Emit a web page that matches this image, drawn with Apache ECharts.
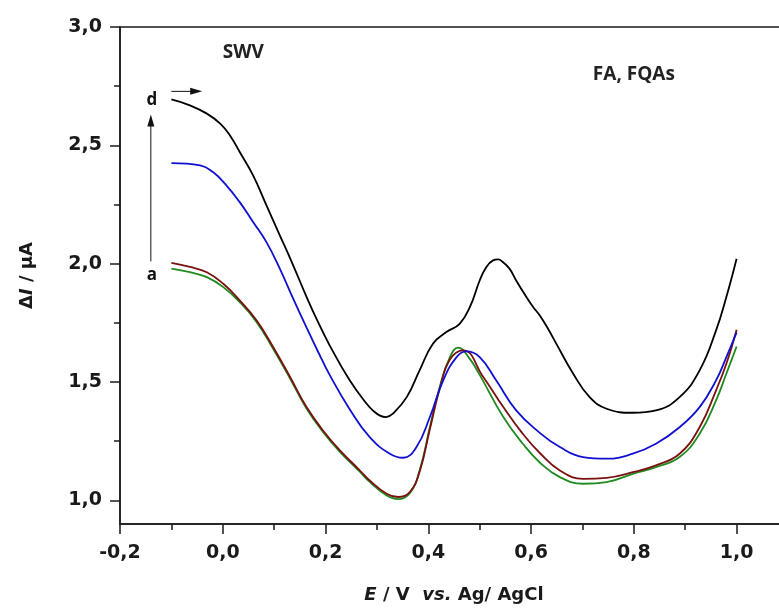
<!DOCTYPE html>
<html><head><meta charset="utf-8">
<script src="https://cdn.jsdelivr.net/npm/echarts@6/dist/echarts.min.js"></script>
<style>html,body{margin:0;padding:0;background:#fff}#c{width:779px;height:609px}</style>
</head><body><div id="c"></div>
<script>
// ---- data ----
const yLabelValues = [1.0, 1.5, 2.0, 2.5, 3.0];
const yMinorValues = [1.25, 1.75, 2.25, 2.75];

const curveD_E = [-0.1, -0.064, -0.031, -0.005, 0.014, 0.033, 0.059, 0.085, 0.111, 0.137, 0.163, 0.185, 0.208, 0.247, 0.280, 0.293, 0.306, 0.318, 0.331, 0.358, 0.383, 0.409, 0.435, 0.461, 0.481, 0.500, 0.513, 0.526, 0.536, 0.545, 0.558, 0.571, 0.590, 0.604, 0.617, 0.633, 0.649, 0.682, 0.714, 0.747, 0.798, 0.843, 0.889, 0.928, 0.960, 0.980, 1.0];
const curveD_I = [2.694, 2.669, 2.634, 2.592, 2.542, 2.472, 2.373, 2.246, 2.120, 1.993, 1.860, 1.755, 1.655, 1.507, 1.408, 1.378, 1.358, 1.352, 1.366, 1.436, 1.549, 1.662, 1.711, 1.746, 1.817, 1.929, 1.986, 2.014, 2.018, 2.007, 1.979, 1.929, 1.862, 1.817, 1.781, 1.725, 1.662, 1.535, 1.436, 1.387, 1.370, 1.380, 1.436, 1.549, 1.718, 1.859, 2.021];

const curveC_E = [-0.1, -0.044, -0.019, 0.007, 0.033, 0.059, 0.085, 0.111, 0.137, 0.163, 0.185, 0.208, 0.247, 0.286, 0.325, 0.351, 0.377, 0.403, 0.429, 0.455, 0.474, 0.500, 0.532, 0.571, 0.617, 0.656, 0.701, 0.747, 0.798, 0.843, 0.889, 0.928, 0.960, 0.980, 1.0];
const curveC_I = [2.425, 2.415, 2.387, 2.331, 2.260, 2.176, 2.091, 1.979, 1.852, 1.730, 1.630, 1.530, 1.385, 1.267, 1.197, 1.180, 1.225, 1.352, 1.507, 1.605, 1.629, 1.605, 1.507, 1.380, 1.285, 1.225, 1.183, 1.176, 1.197, 1.239, 1.309, 1.394, 1.507, 1.605, 1.710];

const curveB_E = [-0.1, -0.064, -0.031, 0.001, 0.033, 0.066, 0.098, 0.131, 0.163, 0.195, 0.228, 0.267, 0.286, 0.319, 0.341, 0.364, 0.383, 0.403, 0.422, 0.442, 0.468, 0.507, 0.546, 0.584, 0.617, 0.656, 0.701, 0.747, 0.798, 0.843, 0.889, 0.928, 0.960, 0.980, 1.0];
const curveB_I = [2.003, 1.986, 1.964, 1.915, 1.845, 1.760, 1.648, 1.521, 1.394, 1.295, 1.211, 1.126, 1.084, 1.028, 1.014, 1.035, 1.120, 1.300, 1.470, 1.595, 1.634, 1.521, 1.394, 1.281, 1.200, 1.126, 1.091, 1.095, 1.119, 1.148, 1.197, 1.309, 1.465, 1.577, 1.721];

const curveA_E = [-0.1, -0.064, -0.031, 0.001, 0.033, 0.066, 0.098, 0.131, 0.163, 0.195, 0.228, 0.267, 0.286, 0.319, 0.341, 0.364, 0.383, 0.403, 0.422, 0.442, 0.458, 0.480, 0.500, 0.546, 0.584, 0.617, 0.656, 0.701, 0.747, 0.798, 0.843, 0.889, 0.928, 0.960, 0.980, 1.0];
const curveA_I = [1.979, 1.964, 1.943, 1.901, 1.838, 1.753, 1.640, 1.515, 1.388, 1.289, 1.205, 1.120, 1.078, 1.020, 1.005, 1.030, 1.126, 1.309, 1.478, 1.605, 1.645, 1.600, 1.530, 1.352, 1.239, 1.160, 1.098, 1.070, 1.077, 1.112, 1.140, 1.183, 1.281, 1.422, 1.535, 1.650];

const seriesNames = ['d', 'c', 'b', 'a'];
const seriesColors = ['#000000', '#1010d0', '#7a1010', '#1f8a1f'];

function pairs(xs, ys) { return xs.map((x, i) => [x, ys[i]]); }
const fmt = v => v.toFixed(1).replace('.', ',');

const chart = echarts.init(document.getElementById('c'), null, {renderer: 'canvas'});
const axisColor = '#1a1a1a';
const tickFont = {fontFamily: 'DejaVu Sans', fontWeight: 'bold', fontSize: 19, color: '#1a1a1a'};

const dataSets = [pairs(curveD_E, curveD_I), pairs(curveC_E, curveC_I), pairs(curveB_E, curveB_I), pairs(curveA_E, curveA_I)];

const nameStyle = {fontFamily: 'DejaVu Sans', fontWeight: 'bold', fontSize: 18, color: '#1a1a1a',
  rich: {i: {fontFamily: 'DejaVu Sans', fontWeight: 'bold', fontStyle: 'italic', fontSize: 18, color: '#1a1a1a'}}};

const option = {
  animation: false,
  backgroundColor: '#fff',
  grid: {left: 120, top: 27, width: 668, height: 497, show: true, borderColor: axisColor, borderWidth: 1.5,
         backgroundColor: 'transparent', containLabel: false, outerBoundsMode: 'none'},
  xAxis: {
    type: 'value', min: -0.2, max: 1.1, interval: 0.2,
    axisLine: {show: true, onZero: false, lineStyle: {color: axisColor, width: 1.5}},
    axisTick: {show: true, inside: false, length: 10, lineStyle: {color: axisColor, width: 1.5}},
    minorTick: {show: true, splitNumber: 2, length: 6, lineStyle: {color: axisColor, width: 1.5}},
    splitLine: {show: false},
    axisLabel: Object.assign({margin: 20, formatter: v => (v > 1.05 ? '' : fmt(v))}, tickFont),
    name: '{i|E} / V  {i|vs.} Ag/ AgCl',
    nameLocation: 'middle', nameGap: 62,
    nameTextStyle: nameStyle
  },
  yAxis: [{
    type: 'value', min: 0.9, max: 3.0,
    axisLine: {show: true, onZero: false, lineStyle: {color: axisColor, width: 1.5}},
    axisTick: {show: true, inside: false, length: 10, customValues: yLabelValues, lineStyle: {color: axisColor, width: 1.5}},
    splitLine: {show: false},
    axisLabel: Object.assign({margin: 18, customValues: yLabelValues, formatter: v => fmt(v)}, tickFont),
    name: 'Δ{i|I} / μA',
    nameLocation: 'middle', nameGap: 84, nameRotate: 90,
    nameTextStyle: nameStyle
  }, {
    type: 'value', min: 0.9, max: 3.0, position: 'left',
    axisLine: {show: false, onZero: false},
    axisTick: {show: true, inside: false, length: 6, customValues: yMinorValues, lineStyle: {color: axisColor, width: 1.5}},
    axisLabel: {show: false},
    splitLine: {show: false}
  }],
  series: dataSets.map((d, i) => ({
    name: seriesNames[i], type: 'line', data: d, smooth: 0.45, symbol: 'none',
    lineStyle: {color: seriesColors[i], width: 1.8}, z: 10 - i
  }))
};
chart.setOption(option);

// annotations, anchored in data coordinates
function px(x, y) { return chart.convertToPixel({gridIndex: 0}, [x, y]); }
const annFont = 'bold 19px "Open Sans"';
const pSWV = px(0.04, 2.893), pFA = px(0.80, 2.80), pD = px(-0.138, 2.69), pA = px(-0.138, 1.95);
const v0 = px(-0.14, 2.01), v1 = px(-0.14, 2.63), h0 = px(-0.10, 2.728), h1 = px(-0.04, 2.728);
chart.setOption({graphic: [
  {type: 'text', x: pSWV[0], y: pSWV[1], style: {text: 'SWV', font: annFont, fill: '#222', align: 'center', verticalAlign: 'middle'}},
  {type: 'text', x: pFA[0], y: pFA[1], style: {text: 'FA, FQAs', font: annFont, fill: '#222', align: 'center', verticalAlign: 'middle'}},
  {type: 'text', x: pD[0], y: pD[1], style: {text: 'd', font: 'bold 17px "Open Sans"', fill: '#111', align: 'center', verticalAlign: 'middle'}},
  {type: 'text', x: pA[0], y: pA[1], style: {text: 'a', font: 'bold 17px "Open Sans"', fill: '#111', align: 'center', verticalAlign: 'middle'}},
  {type: 'line', shape: {x1: v0[0], y1: v0[1], x2: v1[0], y2: v1[1] + 10}, style: {stroke: '#111', lineWidth: 1}},
  {type: 'polygon', shape: {points: [[v1[0], v1[1]], [v1[0] - 3.5, v1[1] + 12], [v1[0] + 3.5, v1[1] + 12]]}, style: {fill: '#111'}},
  {type: 'line', shape: {x1: h0[0], y1: h0[1], x2: h1[0] - 10, y2: h1[1]}, style: {stroke: '#111', lineWidth: 1}},
  {type: 'polygon', shape: {points: [[h1[0], h1[1]], [h1[0] - 12, h1[1] - 3.5], [h1[0] - 12, h1[1] + 3.5]]}, style: {fill: '#111'}}
]});
</script>
</body></html>
